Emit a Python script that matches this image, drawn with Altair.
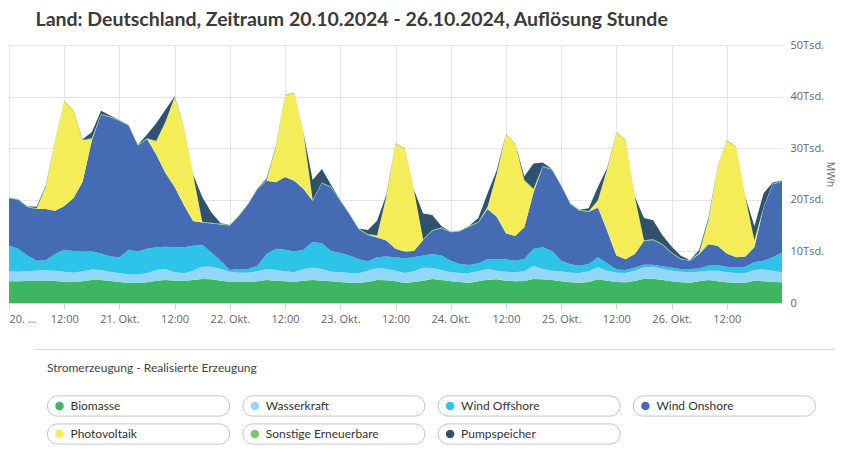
import altair as alt
import pandas as pd

# hour offsets from 20.10.2024 00:00 (2-hour steps)
hours = list(range(0, 169, 2))

# values in Tsd. MWh
biomasse = [4.2, 4.2, 4.26, 4.33, 4.33, 4.26, 4.13, 4.07, 4.2, 4.46, 4.46, 4.26, 4.07, 3.88, 3.88, 4.0, 4.33, 4.46, 4.33, 4.26, 4.46,
            4.65, 4.59, 4.33, 4.13, 4.07, 4.07, 4.2, 4.46, 4.33, 4.2, 4.13, 4.33, 4.46, 4.33, 4.2, 4.07, 3.94, 3.94, 4.07, 4.46,
            4.4, 4.2, 3.88, 4.07, 4.33, 4.65, 4.46, 4.2, 4.07, 3.94, 4.2, 4.52, 4.59, 4.33, 4.2, 4.26, 4.65, 4.59, 4.46, 4.2,
            4.0, 3.94, 4.07, 4.59, 4.33, 4.07, 4.0, 4.26, 4.72, 4.72, 4.46, 4.2, 4.0, 3.94, 4.2, 4.46, 4.2, 4.0, 3.94, 3.94,
            4.33, 4.2, 4.07, 4.0]
wasserkraft = [1.94, 1.87, 1.94, 1.94, 2.0, 2.01, 1.94, 1.81, 1.94, 2.04, 1.94, 1.81, 1.68, 1.62, 1.62, 1.75, 2.07, 2.14, 1.61, 1.49, 1.81,
               2.39, 2.45, 2.27, 1.94, 1.81, 1.81, 1.94, 2.14, 2.07, 1.94, 1.81, 2.27, 2.39, 2.27, 1.87, 1.87, 1.87, 1.81, 2.2, 2.32,
               2.2, 2.07, 1.93, 2.07, 2.52, 2.13, 1.94, 1.74, 1.74, 1.87, 1.94, 2.08, 1.68, 1.74, 1.74, 1.88, 2.52, 2.01, 1.81, 1.94,
               1.88, 1.87, 2.07, 2.32, 1.94, 1.81, 1.81, 2.01, 2.19, 2.32, 2.14, 2.07, 2.07, 2.0, 1.87, 1.81, 2.07, 1.94, 1.87, 1.87,
               2.07, 2.3, 2.2, 1.94]
wind_offshore = [4.96, 4.43, 3.0, 1.93, 1.97, 3.23, 4.23, 4.22, 3.86, 3.5, 3.2, 2.93, 3.1, 4.8, 4.5, 4.75, 4.4, 4.3, 4.86, 5.05, 4.83,
                 4.26, 2.76, 1.6, 0.33, 0.72, 0.72, 1.06, 2.9, 4.1, 4.16, 4.06, 3.7, 4.95, 5.0, 4.03, 3.76, 3.39, 2.71, 1.8, 2.07,
                 2.4, 2.58, 2.84, 2.71, 2.35, 2.72, 2.8, 2.26, 1.75, 1.55, 1.55, 1.86, 2.26, 2.39, 2.26, 2.39, 3.33, 4.2, 3.83, 2.06,
                 1.62, 1.43, 1.42, 1.94, 1.42, 0.62, 0.59, 0.63, 0.52, 0.39, 0.5, 0.63, 0.53, 0.66, 0.63, 0.97, 1.09, 1.1, 1.09, 1.23,
                 1.5, 1.7, 2.58, 3.86]
wind_onshore = [9.2, 9.5, 9.4, 10.0, 9.9, 8.4, 8.5, 10.2, 13.5, 21.5, 26.9, 27.0, 26.45, 24.1, 20.5, 21.3, 18.0, 14.3, 11.7, 8.2, 4.8,
                4.3, 5.6, 7.0, 8.6, 10.3, 12.6, 14.9, 14.2, 12.9, 14.1, 13.7, 11.8, 8.0, 11.6, 12.3, 10.1, 8.0, 5.84, 5.13, 3.85,
                3.1, 1.65, 1.35, 1.25, 3.0, 4.5, 5.3, 5.5, 6.34, 7.44, 7.91, 9.74, 8.17, 5.04, 4.8, 6.17, 10.9, 15.6, 15.7, 14.5,
                11.7, 10.66, 10.14, 9.65, 6.31, 2.7, 2.1, 2.6, 4.57, 4.77, 4.2, 2.8, 1.86, 1.6, 2.8, 4.16, 3.74, 2.56, 1.95, 1.96,
                2.9, 10.3, 14.15, 13.7]
photovoltaik = [0, 0, 0, 0, 4.3, 13.5, 20.2, 17.0, 8.0, 0.3, 0, 0, 0, 0, 0, 0, 2.5, 9.8, 17.3, 15.0, 8.9,
                0, 0, 0, 0, 0, 0, 0, 0, 6.8, 15.8, 16.9, 10.7, 0, 0, 0, 0, 0, 0, 0, 0.3,
                8.4, 20.3, 19.8, 11.7, 0, 0, 0, 0, 0, 0, 0, 0.3, 8.2, 19.1, 17.8, 9.0, 0.6, 0, 0, 0,
                0, 0, 0, 1.3, 11.8, 23.7, 23.0, 11.0, 0, 0, 0, 0, 0, 0, 0.1, 4.6, 15.2, 21.9, 21.35, 11.5,
                1.2, 0, 0, 0]
sonstige = [0.15, 0.15, 0.15, 0.15, 0.15, 0.15, 0.15, 0.15, 0.15, 0.15, 0.15, 0.15, 0.15, 0.15, 0.15, 0.15, 0.15, 0.15, 0.15, 0.15, 0.15,
            0.15, 0.15, 0.15, 0.15, 0.15, 0.15, 0.15, 0.15, 0.15, 0.15, 0.15, 0.15, 0.15, 0.15, 0.15, 0.15, 0.15, 0.15, 0.15, 0.15,
            0.15, 0.15, 0.15, 0.15, 0.15, 0.15, 0.15, 0.15, 0.15, 0.15, 0.15, 0.15, 0.15, 0.15, 0.15, 0.15, 0.15, 0.15, 0.15, 0.15,
            0.15, 0.15, 0.15, 0.15, 0.15, 0.15, 0.15, 0.15, 0.15, 0.15, 0.15, 0.15, 0.15, 0.15, 0.15, 0.15, 0.15, 0.15, 0.15, 0.15,
            0.15, 0.15, 0.15, 0.15]
pumpspeicher = [0, 0, 0, 0.3, 0.1, 0, 0, 0, 0.1, 1.2, 0.6, 0.2, 0, 0, 0, 0.7, 3.4, 2.3, 0.1, 0, 0,
                4.8, 2.0, 0.1, 0, 0, 0, 0, 0.3, 0.1, 0, 0, 0, 3.9, 2.6, 0.3, 0, 0, 0, 0.8, 2.8,
                0.3, 0, 0, 0, 5.0, 2.9, 0.2, 0, 0, 0, 0.7, 2.6, 0.7, 0, 0, 0.7, 4.9, 0.7, 0, 0,
                0, 0, 0.5, 2.6, 0.2, 0, 0, 0, 4.3, 3.7, 1.7, 1.1, 0.54, 0, 0.5, 0.3, 0, 0, 0, 0,
                2.7, 2.6, 0.2, 0.1]

series_names = ["Biomasse", "Wasserkraft", "Wind Offshore", "Wind Onshore",
                "Photovoltaik", "Sonstige Erneuerbare", "Pumpspeicher"]
series_values = [biomasse, wasserkraft, wind_offshore, wind_onshore,
                 photovoltaik, sonstige, pumpspeicher]
colors = ["#3db660", "#92d8f6", "#2ec4ea", "#456bb4", "#f4ed58", "#7cc46e", "#2f5270"]

rows = []
for rank, (name, vals) in enumerate(zip(series_names, series_values)):
    for h, v in zip(hours, vals):
        rows.append({"h": h, "serie": name, "wert": v * 1000, "rang": rank})
df = pd.DataFrame(rows)

x_ticks = list(range(0, 168, 12))
y_ticks = [0, 10000, 20000, 30000, 40000, 50000]

x_label = ("datum.value % 24 == 12 ? '12:00' : (datum.value == 0 ? '20. \u2026' : "
           "(20 + datum.value / 24) + '. Okt.')")
y_label = "datum.value == 0 ? '0' : (datum.value / 1000) + 'Tsd.'"

main = alt.Chart(df).mark_area(interpolate="linear").encode(
    x=alt.X("h:Q", scale=alt.Scale(domain=[0, 168], nice=False, zero=False),
            axis=alt.Axis(values=x_ticks, labelExpr=x_label, title=None, grid=True,
                          gridColor="#e6e6e6", gridWidth=1, domainColor="#ccd6eb",
                          tickColor="#ccd6eb", tickSize=6, labelColor="#666666",
                          labelFontSize=11, labelFont="Open Sans", labelFlush=True,
                          labelPadding=4)),
    y=alt.Y("wert:Q", stack="zero", scale=alt.Scale(domain=[0, 50000], nice=False),
            axis=alt.Axis(orient="right", values=y_ticks, labelExpr=y_label, title="MWh",
                          grid=True, gridColor="#e6e6e6", domain=False, ticks=False,
                          labelPadding=8, labelColor="#666666", labelFontSize=11,
                          labelFont="Open Sans", titleAngle=90, titleColor="#666666",
                          titleFontSize=10.5, titleFont="Open Sans", titleFontWeight="normal",
                          titlePadding=1)),
    color=alt.Color("serie:N", scale=alt.Scale(domain=series_names, range=colors), legend=None),
    order=alt.Order("rang:Q", sort="ascending"),
).properties(width=773, height=258)

# custom legend: pills in a grid of 4 columns
leg_df = pd.DataFrame({"serie": series_names, "idx": list(range(len(series_names)))})
leg_base = alt.Chart(leg_df).transform_calculate(
    col="datum.idx % 4", row="floor(datum.idx / 4)",
    col2="datum.col + 0.932", rtop="datum.row - 0.36", rbot="datum.row + 0.36")
xs = alt.Scale(domain=[0, 4], range=[38.5, 819.7])
ys = alt.Scale(domain=[0, 1], range=[57, 85])

pills = leg_base.mark_rect(cornerRadius=10, fill="white", stroke="#c4c4c4", strokeWidth=1).encode(
    x=alt.X("col:Q", scale=xs, axis=None), x2="col2:Q",
    y=alt.Y("rtop:Q", scale=ys, axis=None), y2="rbot:Q")
dots = leg_base.mark_circle(size=72, opacity=1, xOffset=12).encode(
    x=alt.X("col:Q", scale=xs, axis=None), y=alt.Y("row:Q", scale=ys, axis=None),
    color=alt.Color("serie:N", scale=alt.Scale(domain=series_names, range=colors), legend=None))
labels = leg_base.mark_text(align="left", baseline="middle", dx=23, fontSize=12,
                            font="Lato", color="#333333").encode(
    x=alt.X("col:Q", scale=xs, axis=None), y=alt.Y("row:Q", scale=ys, axis=None),
    text="serie:N")
sep = alt.Chart(leg_df).mark_rule(color="#dddddd", strokeWidth=1).encode(
    x=alt.value(25), x2=alt.value(826), y=alt.value(0.5))
header = alt.Chart(pd.DataFrame({"t": ["Stromerzeugung - Realisierte Erzeugung"]})).mark_text(
    align="left", baseline="middle", fontSize=12, font="Lato", color="#444444").encode(
    x=alt.value(38), y=alt.value(19), text="t:N")

legend = alt.layer(sep, header, pills, dots, labels).properties(width=822, height=95)

chart = alt.vconcat(main, legend, spacing=25).properties(
    title=alt.TitleParams("Land: Deutschland, Zeitraum 20.10.2024 - 26.10.2024, Auflösung Stunde",
                          anchor="start", dx=27, fontSize=19.5, font="Lato", fontWeight="bold",
                          color="#3a3a3a", offset=9),
    padding={"left": 0, "top": 1, "right": 0, "bottom": 0},
).configure_view(stroke=None)

chart.save("out.html", embed_options={"renderer": "svg", "actions": False})
